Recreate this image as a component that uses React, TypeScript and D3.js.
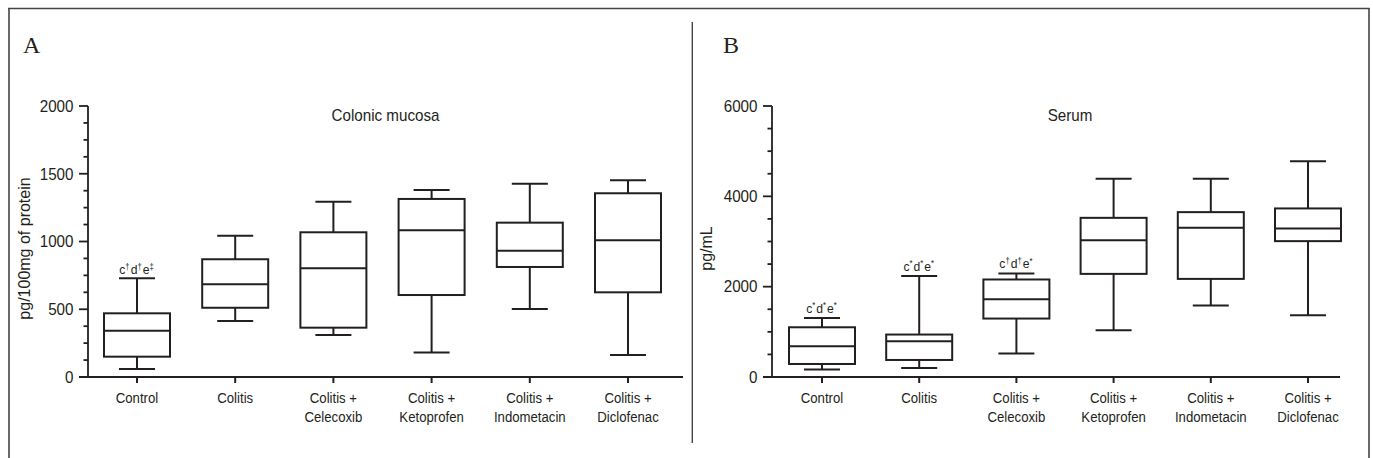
import React from "react";
import * as d3 from "d3";

const categories = ["Control", "Colitis", "Colitis + Celecoxib", "Colitis + Ketoprofen", "Colitis + Indometacin", "Colitis + Diclofenac"];
const labelLines = [["Control"], ["Colitis"], ["Colitis +", "Celecoxib"], ["Colitis +", "Ketoprofen"], ["Colitis +", "Indometacin"], ["Colitis +", "Diclofenac"]];

// Panel A: colonic mucosa (pg/100mg of protein)
const mucosaMin = [59, 413, 310, 180, 502, 162];
const mucosaQ1 = [150, 511, 364, 605, 812, 625];
const mucosaMedian = [342, 684, 802, 1083, 932, 1009];
const mucosaQ3 = [470, 869, 1068, 1314, 1139, 1356];
const mucosaMax = [728, 1043, 1294, 1380, 1427, 1452];
const mucosaNotes = [[["c", "†"], ["d", "†"], ["e", "‡"]], null, null, null, null, null];
const mucosaTicks = [0, 500, 1000, 1500, 2000];
const mucosaMinorStep = 125;

// Panel B: serum (pg/mL)
const serumMin = [164, 200, 519, 1035, 1582, 1367];
const serumQ1 = [288, 377, 1294, 2283, 2172, 3008];
const serumMedian = [680, 791, 1722, 3030, 3302, 3289];
const serumQ3 = [1101, 940, 2159, 3524, 3650, 3732];
const serumMax = [1308, 2238, 2292, 4388, 4388, 4774];
const serumNotes = [
  [["c", "*"], ["d", "*"], ["e", "*"]],
  [["c", "*"], ["d", "*"], ["e", "*"]],
  [["c", "†"], ["d", "†"], ["e", "*"]],
  null, null, null,
];
const serumTicks = [0, 2000, 4000, 6000];
const serumMinorStep = 500;

const SANS = "'Liberation Sans', Arial, Helvetica, sans-serif";
const SERIF = "'Liberation Serif', 'Times New Roman', serif";
const INK = "#231f20";

function CText(props: { x: number; y: number; sx: number; size: number; anchor?: string; dy?: string; children: React.ReactNode }) {
  return (
    <text
      transform={`translate(${props.x},${props.y}) scale(${props.sx},1)`}
      dy={props.dy}
      textAnchor={props.anchor || "middle"}
      fontFamily={SANS}
      fontSize={props.size}
      fill={INK}
    >
      {props.children}
    </text>
  );
}

type PanelProps = {
  letter: string;
  letterX: number;
  title: string;
  titleX: number;
  yLabel: string;
  yLabelX: number;
  axisX: number;
  axisEnd: number;
  catRange: [number, number];
  yMax: number;
  ticks: number[];
  minorStep: number;
  mins: number[];
  q1s: number[];
  meds: number[];
  q3s: number[];
  maxs: number[];
  notes: (string[][] | null)[];
  noteGap: number;
};

function Panel(p: PanelProps) {
  const y = d3.scaleLinear().domain([0, p.yMax]).range([377, 106]);
  const x = d3.scalePoint<string>().domain(categories).range(p.catRange);
  const minor = d3.range(0, p.yMax + 1, p.minorStep).filter((v) => !p.ticks.includes(v));
  const boxW = 66;
  const capW = 36;
  return (
    <g>
      <text x={p.letterX} y={52.5} fontFamily={SERIF} fontSize={24} fill={INK}>{p.letter}</text>
      <CText x={p.titleX} y={120.5} sx={0.95} size={16}>{p.title}</CText>
      <text transform={`translate(${p.yLabelX},248.5) rotate(-90)`} fontFamily={SANS} fontSize={16} fill={INK} textAnchor="middle">{p.yLabel}</text>
      {/* y axis */}
      <line x1={p.axisX} x2={p.axisX} y1={y(p.yMax)} y2={y(0)} stroke={INK} strokeWidth={1.8} />
      {p.ticks.map((t) => (
        <g key={"t" + t}>
          <line x1={p.axisX - 9} x2={p.axisX} y1={y(t)} y2={y(t)} stroke={INK} strokeWidth={1.8} />
          <CText x={p.axisX - 14.5} y={y(t)} dy="0.36em" sx={0.95} size={16} anchor="end">{t}</CText>
        </g>
      ))}
      {minor.map((t) => (
        <line key={"m" + t} x1={p.axisX - 4.5} x2={p.axisX} y1={y(t)} y2={y(t)} stroke={INK} strokeWidth={1.8} />
      ))}
      {/* x axis */}
      <line x1={p.axisX - 9} x2={p.axisEnd} y1={y(0)} y2={y(0)} stroke={INK} strokeWidth={1.8} />
      {categories.map((c, i) => {
        const cx = x(c) as number;
        return (
          <g key={c}>
            <line x1={cx} x2={cx} y1={y(0)} y2={y(0) + 6} stroke={INK} strokeWidth={2} />
            {labelLines[i].map((ln, j) => (
              <CText key={j} x={cx} y={403 + j * 18.5} sx={0.88} size={15}>{ln}</CText>
            ))}
            {/* whiskers */}
            <line x1={cx} x2={cx} y1={y(p.maxs[i])} y2={y(p.q3s[i])} stroke={INK} strokeWidth={2} />
            <line x1={cx} x2={cx} y1={y(p.q1s[i])} y2={y(p.mins[i])} stroke={INK} strokeWidth={2} />
            <line x1={cx - capW / 2} x2={cx + capW / 2} y1={y(p.maxs[i])} y2={y(p.maxs[i])} stroke={INK} strokeWidth={2} />
            <line x1={cx - capW / 2} x2={cx + capW / 2} y1={y(p.mins[i])} y2={y(p.mins[i])} stroke={INK} strokeWidth={2} />
            <rect x={cx - boxW / 2} y={y(p.q3s[i])} width={boxW} height={y(p.q1s[i]) - y(p.q3s[i])} fill="none" stroke={INK} strokeWidth={2} />
            <line x1={cx - boxW / 2} x2={cx + boxW / 2} y1={y(p.meds[i])} y2={y(p.meds[i])} stroke={INK} strokeWidth={2} />
            {p.notes[i] && (
              <CText x={cx} y={y(p.maxs[i]) - p.noteGap} sx={0.9} size={13.5}>
                {p.notes[i]!.map((pair, k) => (
                  <React.Fragment key={k}>
                    <tspan>{pair[0]}</tspan>
                    <tspan fontSize={8.5} dy={-4.5}>{pair[1]}</tspan>
                    <tspan fontSize={13.5} dy={4.5}>{"\u200a"}</tspan>
                  </React.Fragment>
                ))}
              </CText>
            )}
          </g>
        );
      })}
    </g>
  );
}

export default function App() {
  return (
    <svg width={1373} height={458} style={{ position: "absolute", left: 0, top: 0, background: "#fff" }}>
      <rect x={0} y={0} width={1373} height={458} fill="#fff" />
      {/* frame */}
      <line x1={8} x2={1369.5} y1={8.5} y2={8.5} stroke="#444" strokeWidth={1.6} />
      <line x1={9} x2={9} y1={8} y2={458} stroke="#444" strokeWidth={1.6} />
      <line x1={1369} x2={1369} y1={8} y2={458} stroke="#444" strokeWidth={1.6} />
      <line x1={692.3} x2={692.3} y1={22} y2={443} stroke="#444" strokeWidth={1.4} />
      <Panel
        letter="A" letterX={23} title="Colonic mucosa" titleX={385.5}
        yLabel="pg/100mg of protein" yLabelX={29.5}
        axisX={88} axisEnd={683} catRange={[137, 628]} yMax={2000}
        ticks={mucosaTicks} minorStep={mucosaMinorStep}
        mins={mucosaMin} q1s={mucosaQ1} meds={mucosaMedian} q3s={mucosaQ3} maxs={mucosaMax}
        notes={mucosaNotes} noteGap={4}
      />
      <Panel
        letter="B" letterX={723} title="Serum" titleX={1070}
        yLabel="pg/mL" yLabelX={711.5}
        axisX={772} axisEnd={1340} catRange={[822, 1308]} yMax={6000}
        ticks={serumTicks} minorStep={serumMinorStep}
        mins={serumMin} q1s={serumQ1} meds={serumMedian} q3s={serumQ3} maxs={serumMax}
        notes={serumNotes} noteGap={5}
      />
    </svg>
  );
}
